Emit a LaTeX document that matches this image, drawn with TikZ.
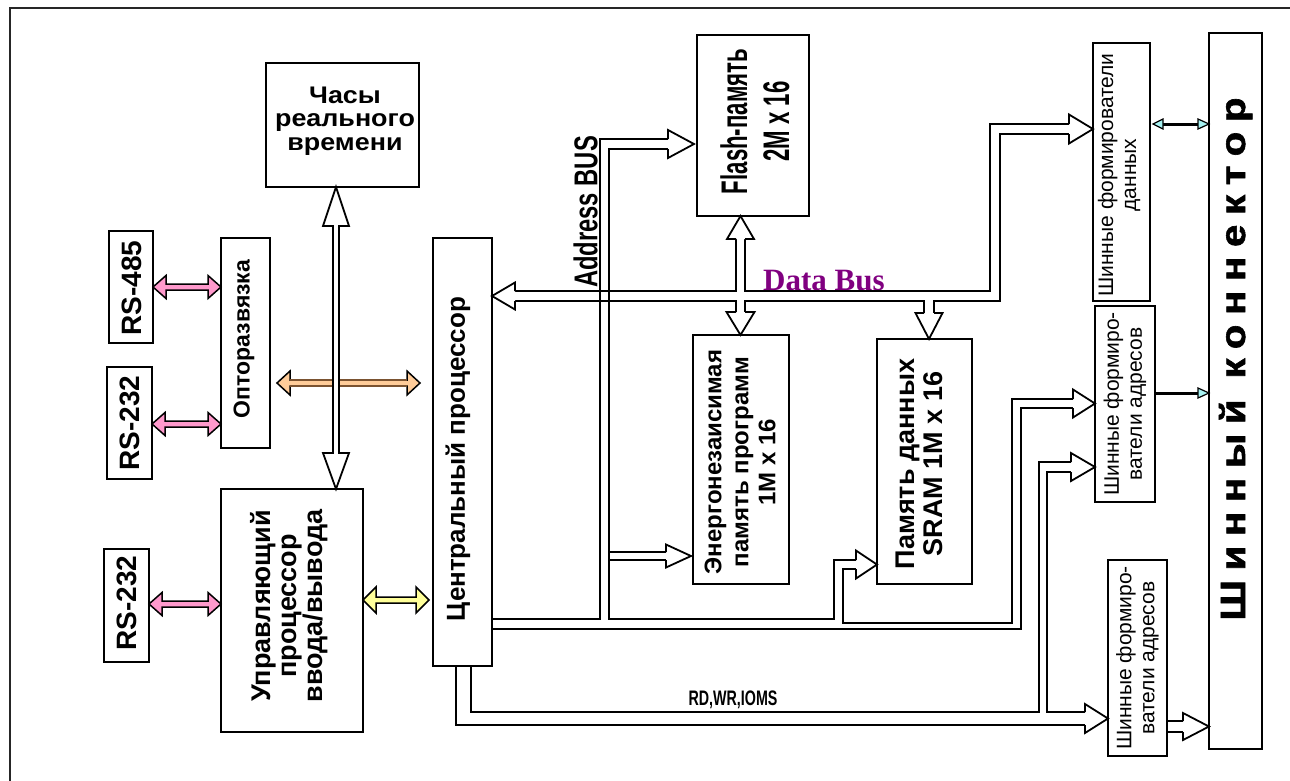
\documentclass[tikz,border=0pt]{standalone}
\usepackage{fontspec}
\setmainfont{Liberation Sans}
\newfontfamily\serifbold{Liberation Serif}
\newfontfamily\connfont[LetterSpace=24, FakeBold=1.6]{Liberation Sans}
\usetikzlibrary{calc}
\definecolor{pinkfill}{HTML}{FF99CC}
\definecolor{orangefill}{HTML}{FFCC99}
\definecolor{orangeshaft}{HTML}{7A5230}
\definecolor{yellowfill}{HTML}{FFFF99}
\definecolor{cyanfill}{HTML}{A6F2F2}
\definecolor{busviolet}{HTML}{800080}
% horizontal double-headed block arrow: style, left tip, right tip, head length, head half, shaft half
\newcommand\hdbl[6]{%
  \filldraw[#1] let \p1=(#2), \p2=(#3), \n1={\x2-\x1} in
    (\p1) -- ++(#4,-#5) -- ++(0,{#5-#6}) -- ++({\n1-2*#4},0) -- ++(0,{#6-#5})
    -- (\p2) -- ++(-#4,#5) -- ++(0,{#6-#5}) -- ++({2*#4-\n1},0) -- ++(0,{#5-#6}) -- cycle;}
\tikzset{
  box/.style={draw, line width=1.8pt, inner sep=0pt, outer sep=0pt},
  lbl/.style={inner sep=0pt, align=center},
  bus/.style={line width=1.8pt, line join=miter},
  head/.style={fill=white, draw=black, line width=1.8pt, line join=miter},
  colarrow/.style={draw=black, line width=1.5pt, line join=miter},
}
\begin{document}
\begin{tikzpicture}[x=1pt, y=-1pt]
\useasboundingbox (0,0) rectangle (1290,780);
% outer frame
\draw[line width=2pt, black!85] (10,790) -- (10,8) -- (1300,8);

% boxes
\node[box, minimum width=153pt, minimum height=124pt] (clock) at (342.5,125) {};
\node[box, minimum width=44pt, minimum height=112pt] (rs485) at (131,287) {};
\node[box, minimum width=45pt, minimum height=112pt] (rs232a) at (129.5,423) {};
\node[box, minimum width=49pt, minimum height=210pt] (opto) at (245.5,343) {};
\node[box, minimum width=45pt, minimum height=113pt] (rs232b) at (126.5,605.5) {};
\node[box, minimum width=142pt, minimum height=243pt] (iop) at (292,610.5) {};
\node[box, minimum width=59pt, minimum height=428pt] (cpu) at (462.5,452) {};
\node[box, minimum width=112pt, minimum height=181pt] (flash) at (753,125.5) {};
\node[box, minimum width=96pt, minimum height=249pt] (nvm) at (741,459.5) {};
\node[box, minimum width=95pt, minimum height=245pt] (sram) at (924.5,461.5) {};
\node[box, minimum width=57pt, minimum height=258pt] (dbuf) at (1121.5,172) {};
\node[box, minimum width=60pt, minimum height=196pt] (abuf1) at (1125,404) {};
\node[box, minimum width=59pt, minimum height=196pt] (abuf2) at (1137.5,658) {};
\node[box, minimum width=53pt, minimum height=716pt] (conn) at (1235.5,391) {};

% texts
\node[lbl, font=\bfseries\fontsize{24}{23.5}\selectfont] (clock-t) at (345,121) {\scalebox{1.12}[1]{Часы}\\\scalebox{1.12}[1]{реального}\\\scalebox{1.12}[1]{времени}};
\node[lbl, rotate=90, font=\bfseries\fontsize{28}{28}\selectfont] (rs485-t) at (131.5,288) {RS-485};
\node[lbl, rotate=90, font=\bfseries\fontsize{28}{28}\selectfont] (rs232a-t) at (130,423) {RS-232};
\node[lbl, rotate=90, font=\bfseries\fontsize{28}{28}\selectfont] (rs232b-t) at (127,603) {RS-232};
\node[lbl, rotate=90, font=\bfseries\fontsize{23}{23}\selectfont] (opto-t) at (244,339) {Опторазвязка};
\node[lbl, rotate=90, font=\bfseries\fontsize{27}{26}\selectfont] (iop-t) at (289,606) {Управляющий\\процессор\\ввода/вывода};
\node[lbl, rotate=90, font=\bfseries\fontsize{26}{26}\selectfont] (cpu-t) at (458,459) {Центральный процессор};
\node[lbl, rotate=90, font=\bfseries\fontsize{37}{42}\selectfont] (flash-t) at (755,121.5) {\scalebox{0.6}[1]{Flash-память}\\\scalebox{0.6}[1]{2M x 16}};
\node[lbl, rotate=90, font=\bfseries\fontsize{24}{27}\selectfont] (nvm-t) at (740,462) {Энергонезаисимая\\память программ\\1M x 16};
\node[lbl, rotate=90, font=\bfseries\fontsize{27}{28}\selectfont] (sram-t) at (919,464) {Память данных\\SRAM 1M x 16};
\node[lbl, rotate=90, font=\fontsize{21}{23}\selectfont] (dbuf-t) at (1119,175) {Шинные формирователи\\данных};
\node[lbl, rotate=90, font=\fontsize{21}{23}\selectfont] (abuf1-t) at (1125,404) {Шинные формиро-\\ватели адресов};
\node[lbl, rotate=90, font=\fontsize{21}{23}\selectfont] (abuf2-t) at (1137.5,658) {Шинные формиро-\\ватели адресов};
\node[inner sep=0pt, rotate=90, anchor=base, font=\connfont\bfseries\fontsize{35}{35}\selectfont] (conn-t) at (1245,359) {\scalebox{1.15}[1]{Шинный коннектор}};
\node[inner sep=1pt, rotate=90, anchor=south, font=\bfseries\fontsize{33}{33}\selectfont] (addr-t) at (599,212) {\scalebox{0.72}[1]{Address BUS}};
\node[inner sep=0pt, anchor=base, font=\bfseries\fontsize{21}{21}\selectfont] (ctrl-t) at (733,705) {\scalebox{0.68}[1]{RD,WR,IOMS}};
\node[inner sep=0pt, anchor=base west, text=busviolet, font=\serifbold\bfseries\fontsize{31}{31}\selectfont] (data-t) at (763,290) {Data Bus};

% coloured double arrows
\hdbl{fill=pinkfill, colarrow}{rs485.east |- 0,287}{opto.west |- 0,287}{13}{11.5}{3}
\hdbl{fill=pinkfill, colarrow}{rs232a.east |- 0,424}{opto.west |- 0,424}{13}{11.5}{3}
\hdbl{fill=pinkfill, colarrow}{rs232b.east |- 0,604}{iop.west |- 0,604}{13}{11.5}{3}
\hdbl{fill=yellowfill, colarrow}{iop.east |- 0,600}{$(cpu.west |- 0,600)+(-4,0)$}{13}{13}{3}
\hdbl{fill=orangefill, colarrow}{$(opto.east |- 0,383)+(7,0)$}{$(cpu.west |- 0,383)+(-13,0)$}{13}{12}{3}
\draw[orangeshaft, line width=1.5pt] (290,380) -- (407,380) (290,386) -- (407,386);

% clock <-> I/O processor
\filldraw[head] (333,226) -- (323,226) -- (336,0 |- clock.south) -- (349,226) -- (339,226)
  -- (339,453) -- (349,453) -- (336,0 |- iop.north) -- (323,453) -- (333,453) -- cycle;

% cyan arrows to the connector
\draw[line width=3pt] (1162,124) -- (1199,124);
\filldraw[fill=cyanfill, line width=1.2pt] ($(dbuf.east |- 0,124)+(3,0)$) -- (1163,119) -- (1163,129) -- cycle;
\filldraw[fill=cyanfill, line width=1.2pt] (conn.west |- 0,124) -- (1198,119) -- (1198,129) -- cycle;
\draw[line width=3pt] (abuf1.east |- 0,393) -- (1199,393);
\filldraw[fill=cyanfill, line width=1.2pt] (conn.west |- 0,393) -- (1198,388) -- (1198,398) -- cycle;

% data bus
\draw[bus] (515,291) -- (736,291) -- (736,239);
\draw[bus] (1069,124) -- (990,124) -- (990,291) -- (745,291) -- (745,239);
\draw[bus] (515,301) -- (736,301) -- (736,312);
\draw[bus] (745,312) -- (745,301) -- (924,301) -- (924,313);
\draw[bus] (934,313) -- (934,301) -- (1000,301) -- (1000,134) -- (1069,134);
\filldraw[head] (515,291) -- (515,282.5) -- (cpu.east |- 0,296) -- (515,309.5) -- (515,301);
\filldraw[head] (736,239) -- (727,239) -- (740.5,0 |- flash.south) -- (754,239) -- (745,239);
\filldraw[head] (736,312) -- (726.5,312) -- (740.5,0 |- nvm.north) -- (754.5,312) -- (745,312);
\filldraw[head] (924,313) -- (915.5,313) -- (929,0 |- sram.north) -- (942.5,313) -- (934,313);
\filldraw[head] (1069,124) -- (1069,114.5) -- (dbuf.west |- 0,129) -- (1069,143.5) -- (1069,134);

% address bus
\draw[bus] (cpu.east |- 0,619) -- (600,619) -- (600,139) -- (668,139);
\draw[bus] (668,149) -- (609,149) -- (609,619) -- (834,619) -- (834,560) -- (856,560);
\draw[bus] (856,569) -- (843,569) -- (843,623) -- (1012,623) -- (1012,399) -- (1073,399);
\draw[bus] (1073,408) -- (1021,408) -- (1021,629) -- (cpu.east |- 0,629);
\draw[bus] (609,552) -- (666,552) (609,560) -- (666,560);
\filldraw[head] (668,139) -- (668,130) -- ($(flash.west |- 0,144)+(-3,0)$) -- (668,158) -- (668,149);
\filldraw[head] (666,552) -- (666,544.5) -- ($(nvm.west |- 0,556)+(-2,0)$) -- (666,567.5) -- (666,560);
\filldraw[head] (856,560) -- (856,550.5) -- (sram.west |- 0,564.5) -- (856,578.5) -- (856,569);
\filldraw[head] (1073,399) -- (1073,389.5) -- (abuf1.west |- 0,403.5) -- (1073,417.5) -- (1073,408);

% control bus RD,WR,IOMS
\draw[bus] (471,0 |- cpu.south) -- (471,712) -- (1039,712) -- (1039,462) -- (1071,462);
\draw[bus] (1071,472) -- (1047,472) -- (1047,712) -- (1085,712);
\draw[bus] (1085,725) -- (456,725) -- (456,0 |- cpu.south);
\filldraw[head] (1071,462) -- (1071,453) -- (abuf1.west |- 0,467) -- (1071,481) -- (1071,472);
\filldraw[head] (1085,712) -- (1085,704) -- (abuf2.west |- 0,718.5) -- (1085,733) -- (1085,725);

% address buffer 2 -> connector
\draw[bus] (abuf2.east |- 0,721) -- (1183,721) (abuf2.east |- 0,732) -- (1183,732);
\filldraw[head] (1183,721) -- (1183,713) -- (conn.west |- 0,726.5) -- (1183,740) -- (1183,732);
\end{tikzpicture}
\end{document}
